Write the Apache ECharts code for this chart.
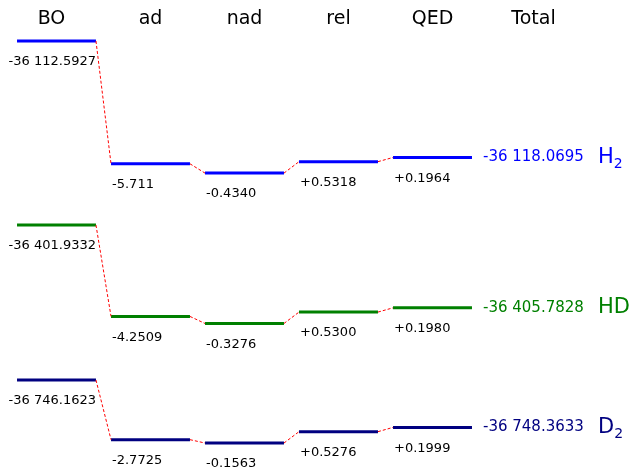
<!DOCTYPE html>
<html>
<head>
<meta charset="utf-8">
<script src="https://cdn.jsdelivr.net/npm/echarts@6/dist/echarts.min.js"></script>
<style>
html, body { margin: 0; padding: 0; background: #fff; }
#chart { width: 630px; height: 467px; }
</style>
</head>
<body>
<div id="chart"></div>
<script>
// columns of the diagram
const steps = ['BO', 'ad', 'nad', 'rel', 'QED', 'Total'];

// contributions as printed (cm-1)
const h2Terms = ['-36 112.5927', '-5.711', '-0.4340', '+0.5318', '+0.1964'];
const hdTerms = ['-36 401.9332', '-4.2509', '-0.3276', '+0.5300', '+0.1980'];
const d2Terms = ['-36 746.1623', '-2.7725', '-0.1563', '+0.5276', '+0.1999'];
const totals = ['-36 118.0695', '-36 405.7828', '-36 748.3633'];
const molecules = ['H2', 'HD', 'D2'];

const FONT = 'DejaVu Sans';
const colors = ['#0000ff', '#008000', '#000080'];
// BO level of each row is put at a schematic height, corrections are to scale
const rowBase = [0, -8.56, -15.77];
const halfW = 0.42;

function num(s) { return parseFloat(s.replace(/ /g, '')); }

function levels(terms, base) {
    let y = base;
    const out = [];
    terms.forEach((t, i) => {
        const prev = y;
        if (i > 0) y += num(t);
        out.push([i, y, i > 0 ? prev : y]);
    });
    return out;
}

function nameText(m) {
    // trailing digit written as subscript
    const mm = m.match(/^(\D+)(\d?)$/);
    return mm[2] ? '{m|' + mm[1] + '}{s|' + mm[2] + '}' : '{m|' + mm[1] + '}';
}

function makeSeries(terms, k) {
    const color = colors[k];
    return {
        type: 'custom',
        data: levels(terms, rowBase[k]),
        clip: false,
        renderItem: function (params, api) {
            const i = api.value(0);
            const y = api.value(1);
            const p0 = api.coord([i - halfW, y]);
            const p1 = api.coord([i + halfW, y]);
            const children = [{
                type: 'line',
                shape: { x1: p0[0], y1: p0[1], x2: p1[0], y2: p1[1] },
                style: { stroke: color, lineWidth: 3 }
            }];
            if (i > 0) {
                const q = api.coord([i - 1 + halfW, api.value(2)]);
                children.push({
                    type: 'line',
                    shape: { x1: q[0], y1: q[1], x2: p0[0], y2: p0[1] },
                    style: { stroke: '#ff0000', lineWidth: 1, lineDash: [3, 2] }
                });
            }
            children.push({
                type: 'text',
                x: i === 0 ? p1[0] : p0[0] + 1,
                y: p0[1] + 21,
                style: {
                    text: terms[params.dataIndex], fill: '#000',
                    fontSize: 13, fontFamily: FONT,
                    align: i === 0 ? 'right' : 'left', verticalAlign: 'middle'
                }
            });
            if (i === 4) {
                children.push({
                    type: 'text',
                    x: p1[0] + 11,
                    y: p1[1],
                    style: {
                        text: totals[k], fill: color, fontSize: 15, fontFamily: FONT,
                        align: 'left', verticalAlign: 'middle'
                    }
                });
                children.push({
                    type: 'text',
                    x: p1[0] + 126,
                    y: p1[1],
                    style: {
                        text: nameText(molecules[k]), fill: color, fontFamily: FONT,
                        align: 'left', verticalAlign: 'middle',
                        rich: {
                            m: { fill: color, fontSize: 21, fontFamily: FONT, lineHeight: 28, verticalAlign: 'middle' },
                            s: { fill: color, fontSize: 14, fontFamily: FONT, lineHeight: 14, verticalAlign: 'bottom' }
                        }
                    }
                });
            }
            return { type: 'group', children: children };
        }
    };
}

const chart = echarts.init(document.getElementById('chart'));
chart.setOption({
    animation: false,
    grid: { left: 56.5, right: 103.5, top: 41, bottom: 17.5 },
    xAxis: {
        type: 'value',
        position: 'top',
        min: 0,
        max: 5,
        interval: 1,
        axisLine: { show: false },
        axisTick: { show: false },
        splitLine: { show: false },
        axisLabel: {
            // first and last headers sit a little off their column centres
            formatter: v => v === 0 ? '{l|' + steps[v] + '}' : v === 5 ? '{r|' + steps[v] + '}' : steps[v],
            color: '#000',
            fontSize: 19,
            fontFamily: FONT,
            margin: 12,
            showMinLabel: true,
            showMaxLabel: true,
            rich: {
                l: { fontSize: 19, fontFamily: FONT, color: '#000', padding: [0, 10, 0, 0] },
                r: { fontSize: 19, fontFamily: FONT, color: '#000', padding: [0, 0, 0, 14] }
            }
        }
    },
    yAxis: { type: 'value', min: -19, max: 0, show: false },
    series: [makeSeries(h2Terms, 0), makeSeries(hdTerms, 1), makeSeries(d2Terms, 2)]
});
</script>
</body>
</html>
